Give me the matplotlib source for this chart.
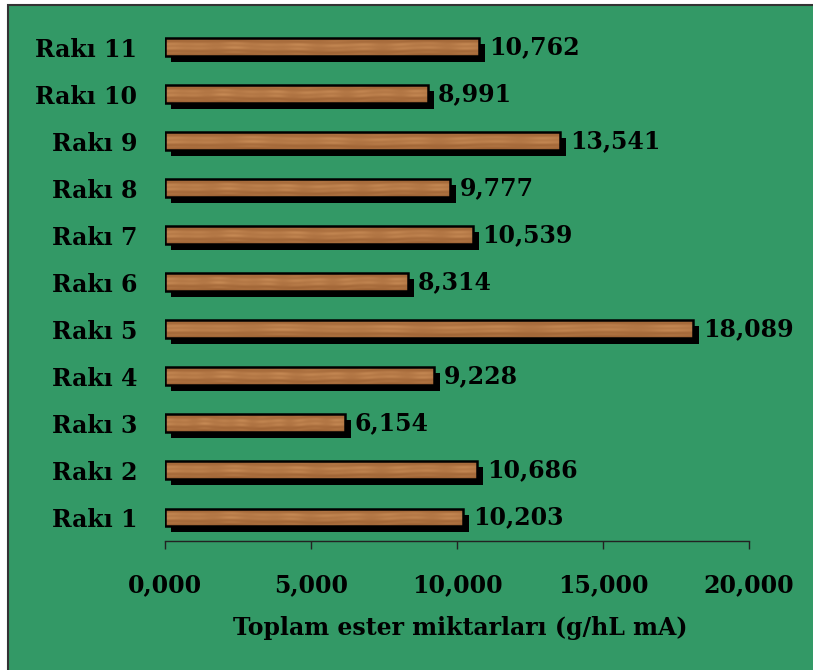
import numpy as np
import matplotlib
matplotlib.use("Agg")
import matplotlib.pyplot as plt
from matplotlib.transforms import ScaledTranslation
from matplotlib.patches import Rectangle

categories = ["Rakı 1", "Rakı 2", "Rakı 3", "Rakı 4", "Rakı 5", "Rakı 6",
              "Rakı 7", "Rakı 8", "Rakı 9", "Rakı 10", "Rakı 11"]
values = [10.203, 10.686, 6.154, 9.228, 18.089, 8.314,
          10.539, 9.777, 13.541, 8.991, 10.762]
xticks = [0, 5, 10, 15, 20]
xlabel = "Toplam ester miktarları (g/hL mA)"

plt.rcParams['font.family'] = ['DejaVu Serif']
plt.rcParams['font.weight'] = 'bold'
FS = 17

W, H = 813, 670
fig = plt.figure(figsize=(W / 100, H / 100), dpi=100, facecolor='white')
green = '#339966'

# frame
fig.patches.append(Rectangle((8 / W, -0.1), 1.2, 1 - 5 / H + 0.1, transform=fig.transFigure,
                             facecolor=green, edgecolor='#333333', linewidth=1.5, zorder=-5))

ax = fig.add_axes([165 / W, 1 - 541 / H, (749 - 165) / W, (541 - 23.5) / H])
ax.set_facecolor('none')
ax.set_zorder(2)

y = np.arange(len(categories))
bh = 0.38

# shadow
shadow_tr = ax.transData + ScaledTranslation(6 / 100, -6 / 100, fig.dpi_scale_trans)
ax.barh(y, values, height=bh, color='black', transform=shadow_tr, zorder=1)

bars = ax.barh(y, values, height=bh, color='#a86b3c', edgecolor='black',
               linewidth=1.8, zorder=3)

# wood texture (horizontal grain)
tw, th = 600, 24
xx = np.linspace(0, 1, tw)[None, :]
yy = np.linspace(0, 1, th)[:, None]
grain = np.sin(yy * 23 + 1.2 * np.sin(xx * 9) + 0.6 * np.sin(xx * 31 + 1))
patches_ = np.sin(xx * 47 + 0.5) * np.sin(xx * 13 + 2.0)
light = (0.45 * np.exp(-((yy - 0.45) / 0.28) ** 2)
         + 0.18 * grain * (0.6 + 0.4 * patches_)
         + 0.12 * patches_ * np.exp(-((yy - 0.45) / 0.3) ** 2))
light = np.clip(light, -0.3, 1)
dark = np.array([0.55, 0.32, 0.15])
lite = np.array([0.84, 0.60, 0.38])
tex = dark[None, None, :] + (lite - dark)[None, None, :] * (0.3 + 0.7 * light[..., None])
tex = np.clip(tex, 0, 1)
for b in bars:
    x0, y0 = b.get_x(), b.get_y()
    w, h = b.get_width(), b.get_height()
    im = ax.imshow(tex, extent=(x0, x0 + w, y0, y0 + h), aspect='auto',
                   interpolation='bilinear', zorder=2)
    im.set_clip_path(b)
    b.set_facecolor('none')

for yi, v in zip(y, values):
    lab = f"{v:.3f}".replace('.', ',')
    ax.annotate(lab, (v, yi), xytext=(7, 0), textcoords='offset points',
                va='center', ha='left', fontsize=FS, fontweight='bold', color='black')

ax.set_xlim(0, 20)
ax.set_ylim(-0.5, len(categories) - 0.5)
ax.set_xticks(xticks)
ax.set_xticklabels([f"{t:.3f}".replace('.', ',') for t in xticks])
ax.set_yticks(y)
ax.set_yticklabels(categories)
ax.tick_params(axis='y', length=0, pad=20, labelsize=FS)
ax.tick_params(axis='x', direction='out', length=6, width=1, color='#222222',
               pad=17, labelsize=FS)
for s in ['top', 'right', 'left']:
    ax.spines[s].set_visible(False)
ax.spines['bottom'].set_color('#222222')
ax.spines['bottom'].set_linewidth(1)
ax.set_xlabel(xlabel, fontsize=FS, fontweight='bold', labelpad=14)
ax.xaxis.label.set_position((0.505, 0))

fig.savefig('out.png', dpi=100, facecolor='white')
